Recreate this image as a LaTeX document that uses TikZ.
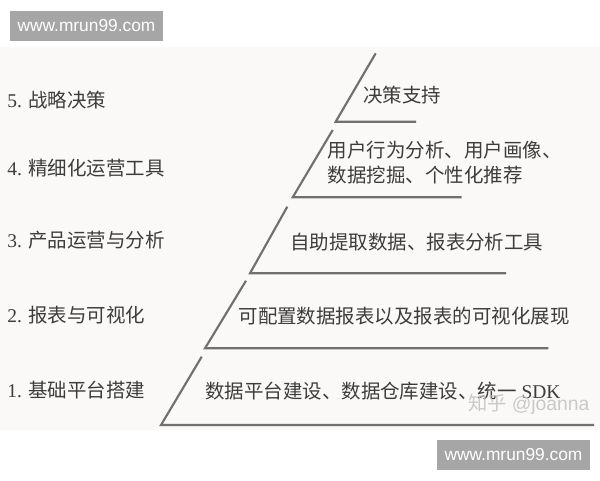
\documentclass[tikz,border=0pt]{standalone}
\usepackage{fontspec}
\setmainfont{Liberation Serif}
\newfontfamily\cjk{Noto Sans CJK SC}
\newfontfamily\arialf{Liberation Sans}
\definecolor{txt}{HTML}{3C3C3C}
\definecolor{ln}{HTML}{707070}
\definecolor{bg}{HTML}{FAF9F8}
\definecolor{wmbox}{HTML}{A6A6A6}
\definecolor{wmtxt}{HTML}{C4C4C4}
\begin{document}
\begin{tikzpicture}[x=0.75pt,y=-0.75pt,
  lvl/.style={draw=ln,line width=1.6pt,line join=miter},
  lab/.style={anchor=west,inner sep=0pt,text=txt,font=\fontsize{14.6}{18}\selectfont},
  wm/.style={fill=wmbox,text=white,font=\arialf\fontsize{13}{15}\selectfont,minimum width=115pt,minimum height=22.5pt,inner sep=0pt}]
\useasboundingbox (0,0) rectangle (600,480);
\fill[white] (0,0) rectangle (600,480);
\fill[bg] (0,47) rectangle (600,430);
% watermark boxes
\node[wm] (wmtop) at (86.5,25.5) {www.mrun99.com};
\node[wm] (wmbot) at (513.5,455) {www.mrun99.com};
% pyramid levels
\draw[lvl] (375.7,53.3) -- (335.7,121.7) -- (416,121.7);
\draw[lvl] (332.7,130) -- (292.7,197.3) -- (461.7,197.3);
\draw[lvl] (287.3,206.7) -- (250,273.3) -- (506,273.3);
\draw[lvl] (246,280.7) -- (205,348.3) -- (548.3,348.3);
\draw[lvl] (201.7,356.7) -- (161,425) -- (594,425);
% left labels
\node[lab] (l5) at (7,100) {5. {\cjk 战略决策}};
\node[lab] (l4) at (7,168) {4. {\cjk 精细化运营工具}};
\node[lab] (l3) at (7,240) {3. {\cjk 产品运营与分析}};
\node[lab] (l2) at (7,315) {2. {\cjk 报表与可视化}};
\node[lab] (l1) at (7,390) {1. {\cjk 基础平台搭建}};
% right texts
\node[lab] (r5) at (363,95) {\cjk 决策支持};
\node[lab] (r4a) at (327.7,150) {\cjk 用户行为分析、用户画像、};
\node[lab] (r4b) at (327.7,175) {\cjk 数据挖掘、个性化推荐};
\node[lab] (r3) at (290,241.7) {\cjk 自助提取数据、报表分析工具};
\node[lab] (r2) at (238.3,316) {\cjk 可配置数据报表以及报表的可视化展现};
\node[lab] (r1) at (205,391) {{\cjk 数据平台建设、数据仓库建设、统一} SDK};
% zhihu watermark
\node[anchor=west,inner sep=0pt,text=wmtxt,opacity=0.9,font=\fontsize{14.5}{17}\selectfont] (zh) at (468,404) {{\cjk 知乎} \arialf @joanna};
\end{tikzpicture}
\end{document}
